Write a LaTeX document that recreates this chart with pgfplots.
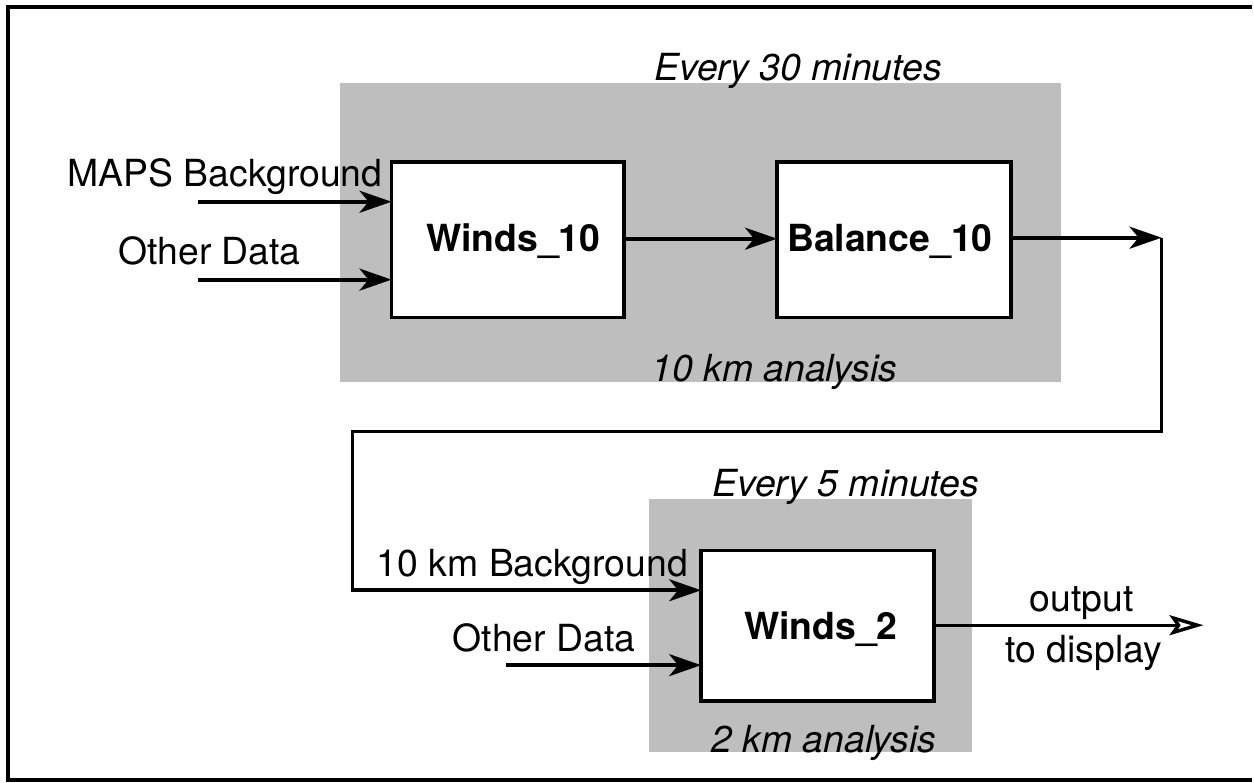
\documentclass[border=0pt]{standalone}
\usepackage{pgfplots}
\pgfplotsset{compat=1.18}
\usetikzlibrary{arrows.meta}
\usepackage{fontspec}
\setmainfont{TeX Gyre Heros}
\definecolor{shade}{HTML}{BEBEBE}
\tikzset{
  lbl/.style={font=\fontsize{18.7pt}{22pt}\selectfont, inner sep=0pt},
  ar/.style={line width=2pt, -{Stealth[length=16pt,width=11pt,inset=4.5pt]}},
  bx/.style={fill=white, draw=black, line width=1.8pt, line cap=rect, line join=miter},
}
\begin{document}
\begin{tikzpicture}
\begin{axis}[x=0.5pt, y=0.5pt, xmin=0, xmax=1254, ymin=0, ymax=783,
  hide axis, clip=false]
% extent of the picture
\addplot[draw=none] coordinates {(0,0) (1254,783)};
% shaded regions
\addplot[fill=shade, draw=none] coordinates {(340,401) (1062,401) (1062,700) (340,700)};
\addplot[fill=shade, draw=none] coordinates {(650,30) (973,30) (973,283) (650,283)};
% boxes
\addplot[bx] coordinates {(392,465) (625,465) (625,621) (392,621) (392,465)};
\addplot[bx] coordinates {(778,465) (1012,465) (1012,621) (778,621) (778,465)};
\addplot[bx] coordinates {(702,81) (935,81) (935,232) (702,232) (702,81)};
% arrows
\addplot[ar] coordinates {(198,581) (392,581)};
\addplot[ar] coordinates {(198,503) (392,503)};
\addplot[ar] coordinates {(625,544) (778,544)};
\addplot[ar] coordinates {(1012,545) (1163,545)};
\addplot[line width=1.8pt, line join=miter, -{Stealth[length=16pt,width=11pt,inset=4.5pt]}]
  coordinates {(1163,545) (1163,351) (353,351) (353,192) (702,192)};
\addplot[ar] coordinates {(507,117) (702,117)};
\addplot[line width=1.7pt, -{Stealth[open,fill=white,length=17pt,width=10pt,inset=3.5pt]}]
  coordinates {(935,157) (1205,157)};
% frame
\addplot[line width=1.6pt, line join=miter] coordinates {(1254,776) (8,776) (8,2) (1254,2)};
% labels
\node[lbl, anchor=base west] at (axis cs:655,702) {\itshape Every 30 minutes};
\node[lbl, anchor=base west] at (axis cs:67,596) {MAPS Background};
\node[lbl, anchor=base west] at (axis cs:118,518) {Other Data};
\node[lbl, anchor=base] at (axis cs:514,531) {\bfseries Winds\_10};
\node[lbl, anchor=base] at (axis cs:891,531) {\bfseries Balance\_10};
\node[lbl, anchor=base west] at (axis cs:652,401) {\itshape 10 km analysis};
\node[lbl, anchor=base west] at (axis cs:713,286) {\itshape Every 5 minutes};
\node[lbl, anchor=base west] at (axis cs:377,206) {10 km Background};
\node[lbl, anchor=base west] at (axis cs:453,131) {Other Data};
\node[lbl, anchor=base] at (axis cs:822,143) {\bfseries Winds\_2};
\node[lbl, anchor=base] at (axis cs:1083,171) {output};
\node[lbl, anchor=base] at (axis cs:1085,120) {to display};
\node[lbl, anchor=base west] at (axis cs:712,30) {\itshape 2 km analysis};
\end{axis}
\end{tikzpicture}
\end{document}
